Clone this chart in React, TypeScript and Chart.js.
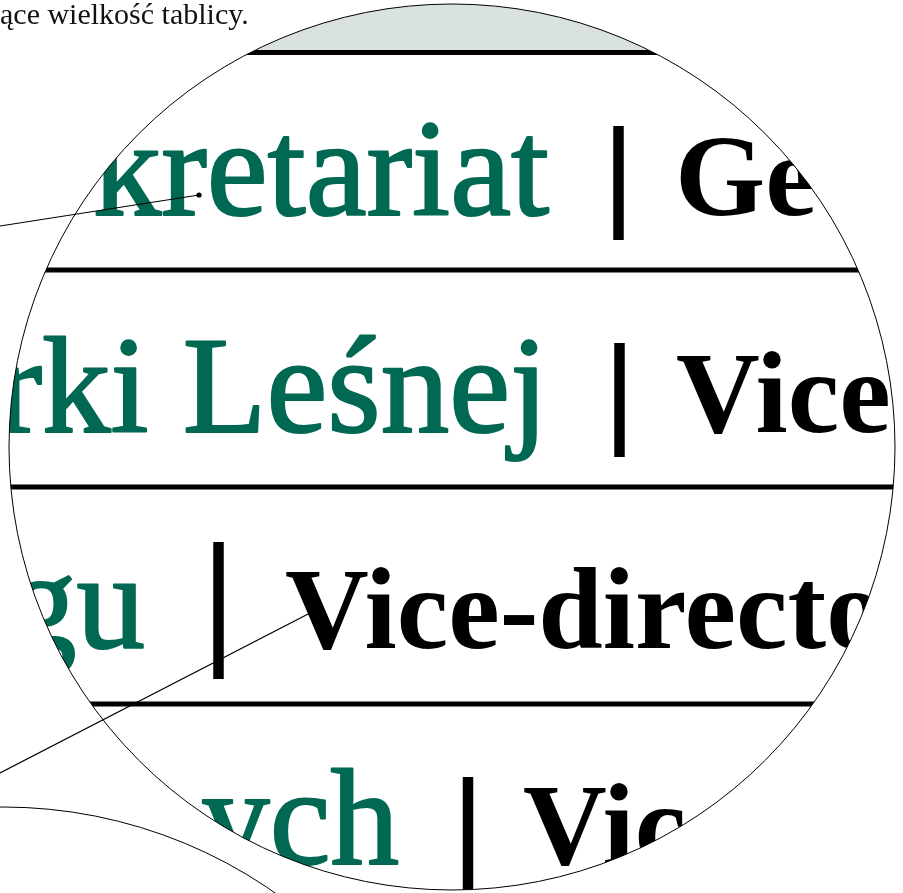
import React, { useEffect, useRef } from "react";
import { Chart, registerables } from "chart.js";

Chart.register(...registerables);

const W = 903;
const H = 893;

// caption fragment at top-left
const captionText = ["ące wielkość tablicy."];
const captionPos = [{ x: 0, y: 24 }];

// magnified lens (center + radius) and neighbouring lens rim
const lens = [{ x: 452, y: 447, r: 443 }];
const neighbourLens = [{ x: 3, y: 1281, r: 474 }];

// sign rows
const greenTexts = ["kretariat", "rki Leśnej", "gu", "ych"];
const blackTexts = ["Ge", "Vice", "Vice-directo", "Vic"];
const rowBaseline = [215, 432, 648, 864];
const greenEndX = [549, 548, 145, 399];
const blackStartX = [675, 676, 285, 523];

// separator bars "|"
const barX = [618.5, 619.5, 218.5, 468];
const barTop = [126, 343, 542, 777];
const barBottom = [240, 457, 679, 893];

// horizontal rules of the sign
const dividerY = [52.5, 270, 487, 704];
const headerBand = [25];

// leader lines (outer end, inner end)
const leaderA = [{ x: 0, y: 226 }, { x: 199, y: 195 }];
const leaderB = [{ x: 0, y: 773 }, { x: 312, y: 612 }];

const GREEN = "#006853";
const GRAY = "#d9e2de";

const lensPlugin = {
  id: "lensPlugin",
  beforeDatasetDraw(chart: any, args: any) {
    const ds = chart.data.datasets[args.index];
    if (!ds.clipToLens) return;
    const ctx = chart.ctx;
    const xs = chart.scales.x;
    const ys = chart.scales.y;
    const cx = xs.getPixelForValue(lens[0].x);
    const cy = ys.getPixelForValue(lens[0].y);
    ctx.save();
    ctx.beginPath();
    ctx.arc(cx, cy, lens[0].r, 0, Math.PI * 2);
    ctx.clip();
  },
  afterDatasetDraw(chart: any, args: any) {
    const ds = chart.data.datasets[args.index];
    const ctx = chart.ctx;
    if (ds.texts) {
      ctx.save();
      ctx.font = ds.textFont;
      ctx.fillStyle = ds.textColor;
      ctx.strokeStyle = ds.textColor;
      ctx.lineJoin = "round";
      ctx.lineWidth = ds.textStroke || 0;
      ctx.textAlign = ds.textAlign;
      ctx.textBaseline = "alphabetic";
      args.meta.data.forEach((pt: any, i: number) => {
        ctx.fillText(ds.texts[i], pt.x, pt.y);
        if (ds.textStroke) ctx.strokeText(ds.texts[i], pt.x, pt.y);
      });
      ctx.restore();
    }
    if (ds.clipToLens) ctx.restore();
  },
};

export default function App() {
  const ref = useRef<HTMLCanvasElement | null>(null);

  useEffect(() => {
    if (!ref.current) return;
    const lineBase = {
      type: "scatter",
      showLine: true,
      pointRadius: 0,
      borderCapStyle: "butt",
    };
    const datasets: any[] = [
      {
        ...lineBase,
        data: [
          { x: 0, y: headerBand[0] },
          { x: W, y: headerBand[0] },
        ],
        borderColor: GRAY,
        borderWidth: 50,
        clipToLens: true,
        order: 10,
      },
      ...dividerY.map((y) => ({
        ...lineBase,
        data: [
          { x: 0, y },
          { x: W, y },
        ],
        borderColor: "#000",
        borderWidth: 5,
        clipToLens: true,
        order: 9,
      })),
      ...barX.map((x, i) => ({
        ...lineBase,
        data: [
          { x, y: barTop[i] },
          { x, y: barBottom[i] },
        ],
        borderColor: "#000",
        borderWidth: 10.5,
        clipToLens: true,
        order: 8,
      })),
      {
        type: "scatter",
        pointRadius: 0,
        data: greenEndX.map((x, i) => ({ x, y: rowBaseline[i] })),
        texts: greenTexts,
        textFont: "normal 137px 'Liberation Serif'",
        textColor: GREEN,
        textStroke: 2.2,
        textAlign: "right",
        clipToLens: true,
        order: 7,
      },
      {
        type: "scatter",
        pointRadius: 0,
        data: blackStartX.map((x, i) => ({ x, y: rowBaseline[i] })),
        texts: blackTexts,
        textFont: "bold 116px 'Liberation Serif'",
        textColor: "#000",
        textAlign: "left",
        clipToLens: true,
        order: 7,
      },
      {
        type: "scatter",
        pointRadius: 0,
        data: captionPos,
        texts: captionText,
        textFont: "normal 30px 'Liberation Serif'",
        textColor: "#111",
        textAlign: "left",
        order: 7,
      },
      {
        ...lineBase,
        data: leaderA,
        borderColor: "#000",
        borderWidth: 1.2,
        pointRadius: [0, 2.6],
        pointBackgroundColor: "#000",
        pointBorderWidth: 0,
        order: 5,
      },
      {
        ...lineBase,
        data: leaderB,
        borderColor: "#000",
        borderWidth: 1.2,
        pointRadius: [0, 2.6],
        pointBackgroundColor: "#000",
        pointBorderWidth: 0,
        order: 5,
      },
      {
        type: "bubble",
        data: lens,
        backgroundColor: "rgba(0,0,0,0)",
        borderColor: "#000",
        borderWidth: 1,
        clip: false,
        order: 2,
      },
      {
        type: "bubble",
        data: neighbourLens,
        backgroundColor: "rgba(0,0,0,0)",
        borderColor: "#000",
        borderWidth: 1,
        clip: false,
        order: 2,
      },
    ];

    const chart = new Chart(ref.current, {
      type: "scatter",
      data: { datasets },
      options: {
        animation: false,
        responsive: false,
        devicePixelRatio: 1,
        events: [],
        layout: { padding: 0, autoPadding: false },
        plugins: {
          legend: { display: false },
          tooltip: { enabled: false },
          title: { display: false },
        },
        scales: {
          x: { type: "linear", min: 0, max: W, display: false },
          y: { type: "linear", min: 0, max: H, reverse: true, display: false },
        },
      },
      plugins: [lensPlugin],
    } as any);
    return () => chart.destroy();
  }, []);

  return (
    <div style={{ position: "fixed", left: 0, top: 0, width: W, height: H, background: "#fff" }}>
      <canvas ref={ref} width={W} height={H} style={{ display: "block", width: W, height: H }} />
    </div>
  );
}
